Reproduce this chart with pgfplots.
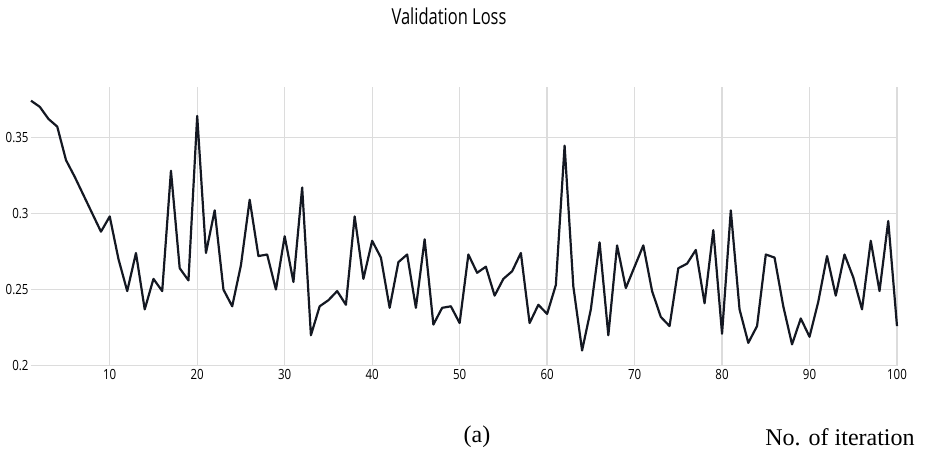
\documentclass[border=0pt]{standalone}
\usepackage{pgfplots}
\pgfplotsset{compat=1.18}
\usepackage{fontspec}
\setmainfont{Liberation Serif}
\newfontfamily\ticksfont[FakeStretch=0.82]{Open Sans}
\newfontfamily\titlefont[FakeStretch=0.75]{Open Sans}
\definecolor{lossline}{RGB}{20,24,34}
\definecolor{gridc}{RGB}{220,220,220}
\begin{document}
\begin{tikzpicture}[x=1pt,y=1pt]
\useasboundingbox (0,0) rectangle (936,468);
\begin{axis}[
  at={(31pt,102.3pt)}, anchor=south west,
  scale only axis, width=866pt, height=278.7pt,
  xmin=1, xmax=100, ymin=0.2, ymax=0.383,
  axis line style={draw=none},
  major tick length=0pt,
  xtick={10,20,...,100},
  ytick={0.2,0.25,0.3,0.35},
  yticklabels={0.2,0.25,0.3,0.35},
  grid=major,
  major grid style={gridc, line width=1.3pt},
  tick label style={font=\ticksfont\fontsize{14}{16}\selectfont, text=black},
  yticklabel style={xshift=1pt},
  /pgf/number format/assume math mode=true,
  clip=false,
]
\addplot[lossline, line width=2.2pt, line join=round] coordinates {
(1,0.374)(2,0.370)(3,0.362)(4,0.357)(5,0.335)(6,0.324)(7,0.312)(8,0.300)(9,0.288)(10,0.298)
(11,0.270)(12,0.249)(13,0.274)(14,0.237)(15,0.257)(16,0.249)(17,0.328)(18,0.264)(19,0.256)(20,0.364)
(21,0.274)(22,0.302)(23,0.250)(24,0.239)(25,0.266)(26,0.309)(27,0.272)(28,0.273)(29,0.250)(30,0.285)
(31,0.255)(32,0.317)(33,0.220)(34,0.239)(35,0.243)(36,0.249)(37,0.240)(38,0.298)(39,0.257)(40,0.282)
(41,0.271)(42,0.238)(43,0.268)(44,0.273)(45,0.238)(46,0.283)(47,0.227)(48,0.238)(49,0.239)(50,0.228)
(51,0.273)(52,0.261)(53,0.265)(54,0.246)(55,0.257)(56,0.262)(57,0.274)(58,0.228)(59,0.240)(60,0.234)
(61,0.253)(62,0.3445)(63,0.252)(64,0.210)(65,0.237)(66,0.281)(67,0.220)(68,0.279)(69,0.251)(70,0.265)
(71,0.279)(72,0.249)(73,0.232)(74,0.226)(75,0.264)(76,0.267)(77,0.276)(78,0.241)(79,0.289)(80,0.221)
(81,0.302)(82,0.237)(83,0.215)(84,0.226)(85,0.273)(86,0.271)(87,0.239)(88,0.214)(89,0.231)(90,0.219)
(91,0.242)(92,0.272)(93,0.246)(94,0.273)(95,0.258)(96,0.237)(97,0.282)(98,0.249)(99,0.295)(100,0.226)
};
\end{axis}
\node[font=\titlefont\fontsize{22}{24}\selectfont, text=black] at (449,451.3) {Validation Loss};
\node[font=\fontsize{24}{26}\selectfont] at (477,31) {(a)};
\node[font=\fontsize{24}{26}\selectfont] at (840,31) {No. of iteration};
\end{tikzpicture}
\end{document}
